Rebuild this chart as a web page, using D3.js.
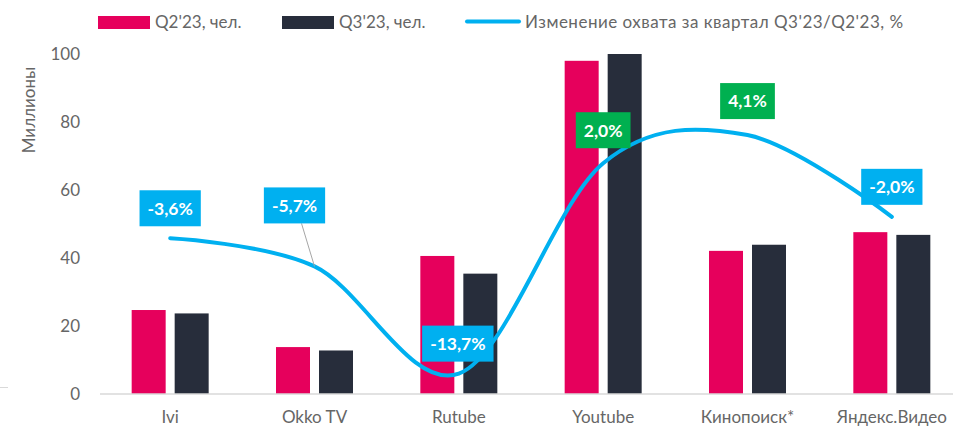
<!DOCTYPE html>
<html>
<head>
<meta charset="utf-8">
<script src="https://cdn.jsdelivr.net/npm/d3@7"></script>
<style>
  body { margin: 0; background: #fff; }
  text { font-family: Lato, "Noto Sans", sans-serif; }
</style>
</head>
<body>
<div id="chart"></div>
<script>
// chart data
var categories = ['Ivi', 'Okko TV', 'Rutube', 'Youtube', 'Кинопоиск*', 'Яндекс.Видео']
var q2Values = [24.7, 13.8, 40.6, 98.0, 42.1, 47.6]
var q3Values = [23.7, 12.8, 35.4, 100.0, 43.9, 46.8]
var changeValues = [-3.6, -5.7, -13.7, 2.0, 4.1, -2.0]
var changeLabels = ['-3,6%', '-5,7%', '-13,7%', '2,0%', '4,1%', '-2,0%']
var yTicks = [0, 20, 40, 60, 80, 100]
var seriesNames = ["Q2'23, чел.", "Q3'23, чел.", "Изменение охвата за квартал Q3'23/Q2'23, %"]

var width = 953, height = 430
var colors = { q2: '#E6005C', q3: '#272D3B', line: '#00B0F0', up: '#00B050', text: '#666666' }

var svg = d3.select('#chart').append('svg')
  .attr('width', width)
  .attr('height', height)

var x = d3.scaleBand()
  .domain(categories)
  .range([98, 964])

var y = d3.scaleLinear()
  .domain([0, 100])
  .range([394, 54])

// secondary axis (hidden) for the % line
var y2 = d3.scaleLinear()
  .domain([-15.22, 10.15])
  .range([394, 54])

var barW = 34, barGap = 9

// y tick labels
svg.append('g').selectAll('text')
  .data(yTicks)
  .enter().append('text')
    .attr('x', 80)
    .attr('y', function(d) { return y(d) })
    .attr('dy', '.35em')
    .attr('text-anchor', 'end')
    .attr('font-size', 17)
    .attr('fill', colors.text)
    .text(function(d) { return d })

svg.append('text')
  .attr('transform', 'translate(35,' + 110 + ') rotate(-90)')
  .attr('text-anchor', 'middle')
  .attr('font-size', 17)
  .attr('fill', colors.text)
  .text('Миллионы')

// small stray mark at the left
svg.append('line')
  .attr('x1', 0).attr('x2', 8)
  .attr('y1', 387.5).attr('y2', 387.5)
  .attr('stroke', '#D9D9D9')

// bars
var groups = svg.append('g').selectAll('g')
  .data(categories)
  .enter().append('g')
    .attr('transform', function(d) { return 'translate(' + (x(d) + x.bandwidth() / 2) + ',0)' })

groups.append('rect')
  .attr('x', -barW - barGap / 2)
  .attr('width', barW)
  .attr('y', function(d, i) { return y(q2Values[i]) })
  .attr('height', function(d, i) { return y(0) - y(q2Values[i]) })
  .attr('fill', colors.q2)

groups.append('rect')
  .attr('x', barGap / 2)
  .attr('width', barW)
  .attr('y', function(d, i) { return y(q3Values[i]) })
  .attr('height', function(d, i) { return y(0) - y(q3Values[i]) })
  .attr('fill', colors.q3)

// x axis
var xAxis = svg.append('g')
  .attr('transform', 'translate(0,' + y(0) + ')')
  .call(d3.axisBottom(x).tickSize(0).tickPadding(17))
xAxis.select('.domain').attr('stroke', '#D9D9D9').attr('stroke-width', 1.5)
  .attr('d', 'M100,0H953')
xAxis.selectAll('text')
  .attr('font-size', 17)
  .attr('fill', colors.text)
  .style('font-family', 'Lato, "Noto Sans", sans-serif')

// smoothed % line
var line = d3.line()
  .x(function(d, i) { return x(categories[i]) + x.bandwidth() / 2 })
  .y(function(d) { return y2(d) })
  .curve(d3.curveCardinal.tension(0))

svg.append('path')
  .datum(changeValues)
  .attr('d', line)
  .attr('fill', 'none')
  .attr('stroke', colors.line)
  .attr('stroke-width', 4)
  .attr('stroke-linecap', 'round')

// data labels: offsets relative to the point
var labelOffsets = [[0, -30], [-20, -61], [-1, -30], [0, -33], [0, -34], [0, -30]]

// leader line for Okko TV
svg.append('line')
  .attr('x1', x(categories[1]) + x.bandwidth() / 2 - 13)
  .attr('y1', y2(changeValues[1]) + labelOffsets[1][1] + 18)
  .attr('x2', x(categories[1]) + x.bandwidth() / 2)
  .attr('y2', y2(changeValues[1]))
  .attr('stroke', '#A6A6A6')
  .attr('stroke-width', 1)

var labels = svg.append('g').selectAll('g')
  .data(changeValues)
  .enter().append('g')
    .attr('transform', function(d, i) {
      var cx = x(categories[i]) + x.bandwidth() / 2 + labelOffsets[i][0]
      var cy = y2(d) + labelOffsets[i][1]
      return 'translate(' + cx + ',' + cy + ')'
    })

labels.append('text')
  .attr('text-anchor', 'middle')
  .attr('dy', '.36em')
  .attr('font-size', 17.5)
  .attr('font-weight', 'bold')
  .attr('fill', '#fff')
  .text(function(d, i) { return changeLabels[i] })

labels.each(function(d) {
  var g = d3.select(this)
  var bb = g.select('text').node().getBBox()
  g.insert('rect', 'text')
    .attr('x', bb.x - 8)
    .attr('y', -18)
    .attr('width', bb.width + 16)
    .attr('height', 36)
    .attr('fill', d > 0 ? colors.up : colors.line)
})

// legend
var legend = svg.append('g')
legend.append('rect').attr('x', 98).attr('y', 16).attr('width', 52).attr('height', 13).attr('fill', colors.q2)
legend.append('rect').attr('x', 282).attr('y', 16).attr('width', 52).attr('height', 13).attr('fill', colors.q3)
legend.append('line').attr('x1', 467).attr('x2', 519).attr('y1', 21.5).attr('y2', 21.5)
  .attr('stroke', colors.line).attr('stroke-width', 4).attr('stroke-linecap', 'round')

var legendX = [155, 339, 525]
legend.selectAll('text')
  .data(seriesNames)
  .enter().append('text')
    .attr('x', function(d, i) { return legendX[i] })
    .attr('y', 22)
    .attr('dy', '.35em')
    .attr('font-size', 17)
    .attr('fill', colors.text)
    .attr('letter-spacing', function(d, i) { return i === 2 ? 0.5 : 0 })
    .text(function(d) { return d })
</script>
</body>
</html>
